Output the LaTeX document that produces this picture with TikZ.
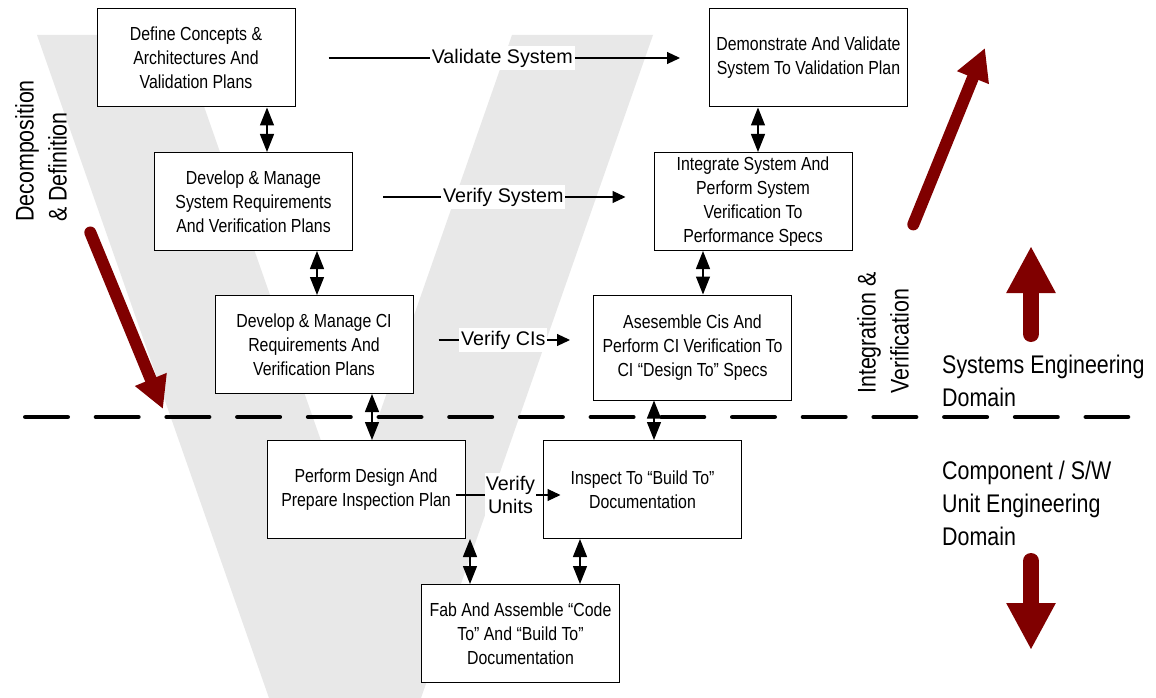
\documentclass[tikz,border=0pt]{standalone}
\usepackage{fontspec}
\setmainfont{Liberation Sans}
\newfontfamily\narrowfont[FakeStretch=0.84]{Liberation Sans}
\usetikzlibrary{arrows.meta}
\definecolor{vgrey}{RGB}{232,232,232}
\definecolor{darkred}{RGB}{128,0,0}
\begin{document}
\begin{tikzpicture}[x=1pt,y=-1pt,
  box/.style={draw=black, line width=1pt, fill=white, minimum width=198pt, minimum height=98pt, inner sep=0pt, align=center, font=\narrowfont\fontsize{18.9}{24}\selectfont},
  flow/.style={draw=black, line width=1.1pt, -{Triangle[length=13pt,width=12pt]}},
  flowlabel/.style={fill=white, inner xsep=2pt, inner ysep=3pt, align=center, font=\fontsize{19.7}{23}\selectfont},
  dbl/.style={draw=black, line width=1.3pt, {Triangle[length=18pt,width=14pt]}-{Triangle[length=18pt,width=14pt]}},
  bigarrow/.style={draw=darkred, line width=12pt, line cap=round, -{Triangle[length=32pt,width=32pt]}},
  vertarrow/.style={draw=darkred, line width=16pt, line cap=round, -{Triangle[length=47pt,width=46pt]}},
  sidelabel/.style={inner sep=0pt, align=left, font=\narrowfont\fontsize{25.5}{33}\selectfont},
  dashline/.style={draw=black, line width=4.5pt, line cap=round, dash pattern=on 42.5pt off 28.2pt}
]
\fill[white] (0,0) rectangle (1156,698);
\useasboundingbox (0,0) rectangle (1156,698);

% grey V
\fill[vgrey] (37,35) -- (179,35) -- (345.6,511) -- (512,35) -- (653,35) -- (421,698) -- (269,698) -- cycle;

% domain separator
\coordinate (dl) at (25.25,417);
\coordinate (dr) at (1128,417);
\draw[dashline] (dl) -- (dr);

% boxes
\node[box] (b1) at (196,58) {Define Concepts \&\\Architectures And\\Validation Plans};
\node[box] (b2) at (808.5,58) {Demonstrate And Validate\\System To Validation Plan};
\node[box] (b3) at (253.5,201.5) {Develop \& Manage\\System Requirements\\And Verification Plans};
\node[box] (b4) at (753,201.5) {Integrate System And\\Perform System\\Verification To\\Performance Specs};
\node[box] (b5) at (314,344.5) {Develop \& Manage CI\\Requirements And\\Verification Plans};
\node[box, minimum height=105pt] (b6) at (692.5,347.5) {Asesemble Cis And\\Perform CI Verification To\\CI “Design To” Specs};
\node[box] (b7) at (366,489.5) {Perform Design And\\Prepare Inspection Plan};
\node[box] (b8) at (642.5,489.5) {Inspect To “Build To”\\Documentation};
\node[box] (b9) at (520.5,633.5) {Fab And Assemble “Code\\To” And “Build To”\\Documentation};

% horizontal flows
\draw[flow, shorten <=33pt, shorten >=29pt] (b1.east) -- (b2.west) node[midway, flowlabel] {Validate System};
\draw[flow, shorten <=30pt, shorten >=28pt] ([yshift=4.5pt]b3.east) -- ([yshift=4.5pt]b4.west) node[midway, flowlabel] {Verify System};
\draw[flow, shorten <=25pt, shorten >=23pt] ([yshift=4.5pt]b5.east) -- ([yshift=4.5pt]b5.east -| b6.west) node[midway, flowlabel] {Verify CIs};
\draw[flow, shorten <=-10pt, shorten >=-17.5pt] ([yshift=-5.5pt]b7.east) -- ([yshift=-5.5pt]b7.east -| b8.west) node[pos=0.58, flowlabel, inner xsep=1pt] {Verify\\Units};

% vertical double arrows
\draw[dbl] ([xshift=71pt]b1.south) -- ([xshift=71pt]b1.south |- b3.north);
\draw[dbl] ([xshift=63.5pt]b3.south) -- ([xshift=63.5pt]b3.south |- b5.north);
\draw[dbl] ([xshift=58pt]b5.south) -- ([xshift=58pt]b5.south |- b7.north);
\draw[dbl] ([xshift=-50.5pt]b2.south) -- ([xshift=-50.5pt]b2.south |- b4.north);
\draw[dbl] ([xshift=-50pt]b4.south) -- ([xshift=-50pt]b4.south |- b6.north);
\draw[dbl] ([xshift=-38.5pt]b6.south) -- ([xshift=-38.5pt]b6.south |- b8.north);
\draw[dbl] ([xshift=-50.5pt]b9.north |- b7.south) -- ([xshift=-50.5pt]b9.north);
\draw[dbl] ([xshift=-62.5pt]b8.south) -- ([xshift=-62.5pt]b8.south |- b9.north);

% red direction arrows
\coordinate (r1s) at (90.3,232.5);
\coordinate (r1e) at (163,409);
\draw[bigarrow] (r1s) -- (r1e);
\coordinate (r2s) at (913.3,224.4);
\coordinate (r2e) at (985,48);
\draw[bigarrow] (r2s) -- (r2e);
\coordinate (r3s) at (1031,334);
\coordinate (r3e) at (1031,246);
\draw[vertarrow] (r3s) -- (r3e);
\coordinate (r4s) at (1031,561);
\coordinate (r4e) at (1031,650);
\draw[vertarrow] (r4s) -- (r4e);

% side labels
\node[sidelabel, rotate=90, anchor=north west] (dd) at (15,222) {Decomposition\\\& Definition};
\node[sidelabel, rotate=90, anchor=north west] (iv) at (857,394) {Integration \&\\Verification};
\node[sidelabel, anchor=north west] (se) at (942,354.5) {Systems Engineering\\Domain};
\node[sidelabel, anchor=north west] (cu) at (942,460.5) {Component / S/W\\Unit Engineering\\Domain};
\end{tikzpicture}
\end{document}
